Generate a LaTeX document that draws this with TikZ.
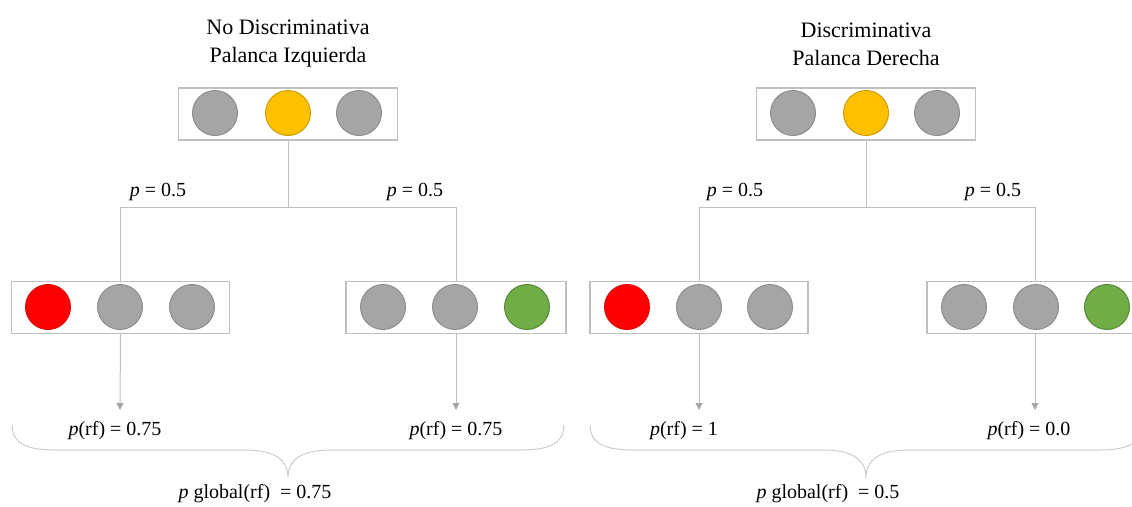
\documentclass[tikz,border=0pt]{standalone}
\usepackage{fontspec}
\setmainfont{Liberation Serif}
\usetikzlibrary{arrows.meta}
\definecolor{boxgray}{HTML}{BFBFBF}
\definecolor{linegray}{HTML}{BFBFBF}
\definecolor{tipgray}{HTML}{A6A6A6}
\definecolor{cgray}{HTML}{A5A5A5}
\definecolor{cgrayd}{HTML}{8A8A8A}
\definecolor{cyel}{HTML}{FFC000}
\definecolor{cyeld}{HTML}{C99700}
\definecolor{cred}{HTML}{FF0000}
\definecolor{credd}{HTML}{E00000}
\definecolor{cgreen}{HTML}{70AD47}
\definecolor{cgreend}{HTML}{548235}
\tikzset{
  panel/.style={draw=boxgray, line width=1.4pt, minimum width=219pt, minimum height=52pt, inner sep=0pt},
  lamp/.style={circle, minimum size=45pt, inner sep=0pt, line width=0.9pt},
  lgray/.style={lamp, fill=cgray, draw=cgrayd},
  lyel/.style={lamp, fill=cyel, draw=cyeld},
  lred/.style={lamp, fill=cred, draw=credd},
  lgreen/.style={lamp, fill=cgreen, draw=cgreend},
  conn/.style={draw=linegray, line width=1pt},
  arr/.style={conn, -{Triangle[width=7pt,length=7pt,color=tipgray]}},
  brace/.style={draw=linegray!80, line width=1pt},
  lab/.style={font=\rmfamily\fontsize{20}{24}\selectfont, inner sep=0pt},
  ttl/.style={font=\rmfamily\fontsize{22}{28}\selectfont, align=center, inner sep=0pt}
}
\begin{document}
\begin{tikzpicture}[x=1pt,y=-1pt]
\useasboundingbox (0,0) rectangle (1132,506);
% ---------- Left panel ----------
\node[ttl] (tA) at (288,44) {No Discriminativa\\Palanca Izquierda};
\node[panel] (bA) at (288,114) {};
\node[lgray] (a1) at (215,113) {};
\node[lyel] (a2) at (288,113) {};
\node[lgray] (a3) at (359,113) {};
\coordinate (jA) at (288,207);
\node[panel, minimum width=218pt] (bAl) at (120.5,307.5) {};
\node[lred] (al1) at (48,307) {};
\node[lgray] (al2) at (120,307) {};
\node[lgray] (al3) at (192,307) {};
\node[panel, minimum width=220pt] (bAr) at (456,307.5) {};
\node[lgray] (ar1) at (383,307) {};
\node[lgray] (ar2) at (455,307) {};
\node[lgreen] (ar3) at (527,307) {};
\draw[conn] (bA.south) -- (jA) -| (bAl.north);
\draw[conn] (jA) -| (bAr.north);
\node[lab] (pAl) at (158,192) {\textit{p} = 0.5};
\node[lab] (pAr) at (415,192) {\textit{p} = 0.5};
\coordinate (eAl) at (120,410);
\coordinate (eAr) at (456,410);
\draw[arr] (bAl.south) -- (eAl);
\draw[arr] (bAr.south) -- (eAr);
\node[lab] (rAl) at (115,431) {\textit{p}(rf) = 0.75};
\node[lab] (rAr) at (456,431) {\textit{p}(rf) = 0.75};
\draw[brace] (12,425) .. controls (12,444) and (28,450) .. (55,450) -- (245,450)
  .. controls (275,450) and (288,460) .. (288,478)
  .. controls (288,460) and (301,450) .. (331,450) -- (521,450)
  .. controls (548,450) and (564,444) .. (564,425);
\node[lab] (gA) at (255,494) {\textit{p} global(rf) \ = 0.75};
% ---------- Right panel ----------
\node[ttl] (tB) at (866,44) {Discriminativa\\Palanca Derecha};
\node[panel] (bB) at (866,114) {};
\node[lgray] (b1) at (793,113) {};
\node[lyel] (b2) at (866,113) {};
\node[lgray] (b3) at (937,113) {};
\coordinate (jB) at (866,207);
\node[panel, minimum width=218pt] (bBl) at (699,307.5) {};
\node[lred] (bl1) at (627,307) {};
\node[lgray] (bl2) at (699,307) {};
\node[lgray] (bl3) at (770,307) {};
\node[panel, minimum width=216pt] (bBr) at (1035,307.5) {};
\node[lgray] (br1) at (964,307) {};
\node[lgray] (br2) at (1036,307) {};
\node[lgreen] (br3) at (1107,307) {};
\draw[conn] (bB.south) -- (jB) -| (bBl.north);
\draw[conn] (jB) -| (bBr.north);
\node[lab] (pBl) at (735,192) {\textit{p} = 0.5};
\node[lab] (pBr) at (993,192) {\textit{p} = 0.5};
\coordinate (eBl) at (699,410);
\coordinate (eBr) at (1035,410);
\draw[arr] (bBl.south) -- (eBl);
\draw[arr] (bBr.south) -- (eBr);
\node[lab] (rBl) at (684,431) {\textit{p}(rf) = 1};
\node[lab] (rBr) at (1029,431) {\textit{p}(rf) = 0.0};
\draw[brace] (590,425) .. controls (590,444) and (606,450) .. (633,450) -- (823,450)
  .. controls (853,450) and (866,460) .. (866,478)
  .. controls (866,460) and (879,450) .. (909,450) -- (1099,450)
  .. controls (1126,450) and (1142,444) .. (1142,425);
\node[lab] (gB) at (828,494) {\textit{p} global(rf) \ = 0.5};
\end{tikzpicture}
\end{document}
